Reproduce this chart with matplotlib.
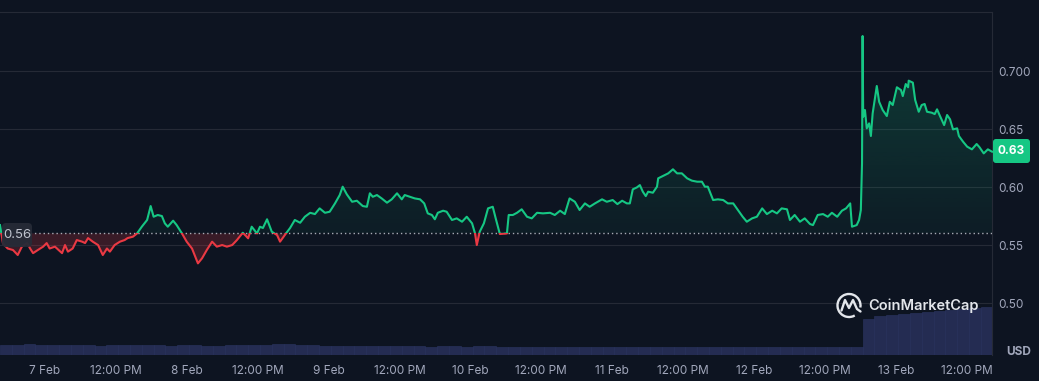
import numpy as np
import matplotlib
matplotlib.use('Agg')
import matplotlib.pyplot as plt
from matplotlib.path import Path
from matplotlib.patches import Rectangle, FancyBboxPatch, Arc

plt.rcParams['font.family'] = ['Inter', 'DejaVu Sans']

# ---------------- data ----------------
# hours relative to 7 Feb 00:00
hours = [-7.6, -7.1, -6.3, -5.4, -4.6, -3.9, -3.0, -2.5, -2.0, -1.2, -0.3, 0.3, 0.8, 1.7, 2.9, 3.4, 3.9, 4.7,
         5.4, 6.3, 6.8, 7.3, 8.1, 9.0, 9.8, 10.5, 11.0, 11.8, 12.7, 13.5, 14.0, 14.9, 15.6, 16.4, 17.3, 17.9,
         18.4, 19.1, 19.8, 20.3, 20.8, 21.7, 22.3, 23.2, 24.0, 24.9, 25.9, 26.6, 27.4, 28.3, 29.1, 30.0, 30.8,
         31.7, 32.5, 33.5, 34.4, 35.0, 35.9, 36.4, 36.9, 37.6, 38.4, 39.3, 39.8, 40.6, 41.5, 42.3, 43.2, 44.0,
         44.9, 45.7, 46.5, 47.4, 48.2, 49.1, 49.9, 50.4, 51.1, 52.0, 52.8, 53.8, 54.5, 55.0, 55.5, 56.2, 57.0,
         57.9, 58.7, 59.6, 60.4, 60.9, 61.8, 62.6, 63.5, 64.2, 64.8, 65.5, 66.0, 66.5, 67.4, 68.0, 68.9, 69.7,
         70.6, 71.4, 72.3, 72.8, 73.1, 73.6, 74.3, 75.0, 75.8, 76.3, 77.0, 78.2, 78.5, 79.2, 79.9, 80.7, 81.6,
         82.4, 83.3, 84.3, 85.5, 86.3, 87.2, 88.0, 88.8, 89.7, 90.5, 91.4, 92.2, 93.1, 94.3, 95.1, 96.1, 96.9,
         97.7, 98.5, 99.0, 99.5, 100.2, 100.7, 101.2, 101.7, 102.1, 102.9, 103.6, 103.8, 104.6, 105.5, 106.3,
         107.0, 107.8, 108.7, 109.5, 110.4, 111.2, 111.7, 112.2, 113.1, 113.9, 114.8, 115.6, 116.5, 117.3,
         118.1, 118.8, 119.7, 120.5, 121.4, 122.2, 123.1, 123.9, 124.7, 125.6, 126.1, 126.9, 127.8, 128.6,
         129.5, 130.0, 130.8, 131.7, 132.5, 133.2, 134.1, 134.9, 135.6, 136.3, 136.6, 137.4, 137.8, 138.1,
         138.3, 138.4, 138.5, 138.8, 139.1, 139.5, 139.8, 140.1, 140.8, 141.2, 141.8, 142.5, 143.0, 143.5,
         144.2, 144.9, 145.2, 145.7, 146.1, 146.2, 146.9, 147.3, 147.9, 148.4, 148.9, 149.3, 150.1, 150.6,
         151.0, 151.5, 152.2, 152.7, 153.2, 153.7, 154.4, 154.7, 155.4, 156.1, 156.9, 157.7, 158.2, 158.9,
         159.6, 160.3]
prices = [0.5672, 0.5515, 0.547, 0.5457, 0.5414, 0.5486, 0.5517, 0.547, 0.543, 0.5457, 0.5486, 0.5517, 0.547,
          0.5486, 0.543, 0.55, 0.5443, 0.547, 0.5543, 0.5529, 0.5517, 0.556, 0.5529, 0.55, 0.5414, 0.547, 0.5443,
          0.55, 0.5529, 0.5543, 0.556, 0.5572, 0.560, 0.5658, 0.5716, 0.5836, 0.5744, 0.5759, 0.575, 0.5687,
          0.5658, 0.571, 0.5672, 0.560, 0.5529, 0.547, 0.5342, 0.5386, 0.5457, 0.5529, 0.5486, 0.55, 0.5486,
          0.55, 0.5543, 0.5606, 0.5558, 0.5658, 0.560, 0.5658, 0.5647, 0.5722, 0.5615, 0.5586, 0.5529, 0.5586,
          0.5647, 0.5716, 0.5692, 0.5744, 0.5778, 0.5767, 0.5816, 0.5778, 0.5787, 0.5859, 0.5931, 0.6003,
          0.5937, 0.5873, 0.5882, 0.5836, 0.583, 0.5946, 0.5916, 0.5931, 0.5902, 0.5865, 0.5894, 0.5946,
          0.5894, 0.5931, 0.5916, 0.5902, 0.5894, 0.5859, 0.5773, 0.5759, 0.5722, 0.5778, 0.5796, 0.5787,
          0.5716, 0.573, 0.5701, 0.5744, 0.5687, 0.560, 0.550, 0.5615, 0.5687, 0.5816, 0.583, 0.573, 0.5595,
          0.560, 0.5759, 0.5759, 0.5778, 0.5808, 0.5744, 0.573, 0.5778, 0.5773, 0.5778, 0.5759, 0.5796,
          0.5767, 0.5902, 0.5873, 0.5802, 0.5859, 0.583, 0.5859, 0.5894, 0.5873, 0.5888, 0.5853, 0.5882,
          0.5859, 0.5859, 0.598, 0.5997, 0.6017, 0.596, 0.5922, 0.596, 0.5951, 0.6003, 0.6075, 0.6095,
          0.6118, 0.6153, 0.6118, 0.6118, 0.6075, 0.6055, 0.6046, 0.6046, 0.6003, 0.6003, 0.5888, 0.5894,
          0.5888, 0.5859, 0.5859, 0.5802, 0.5744, 0.5701, 0.573, 0.5744, 0.5816, 0.5767, 0.5796, 0.5773,
          0.5816, 0.5808, 0.5716, 0.5759, 0.5701, 0.573, 0.5681, 0.5672, 0.5759, 0.5767, 0.5744, 0.5778,
          0.5744, 0.5796, 0.5816, 0.5859, 0.5658, 0.5672, 0.5716, 0.5802, 0.6204, 0.7302, 0.6606, 0.6664,
          0.6506, 0.6549, 0.644, 0.6635, 0.6871, 0.6735, 0.6664, 0.6612, 0.6735, 0.6707, 0.686, 0.6836,
          0.6784, 0.6888, 0.686, 0.6917, 0.69, 0.675, 0.6649, 0.6707, 0.6716, 0.6649, 0.6641, 0.6629, 0.667,
          0.6612, 0.6534, 0.6621, 0.6584, 0.6497, 0.6506, 0.644, 0.6391, 0.6348, 0.6325, 0.6371, 0.6342,
          0.629, 0.6325, 0.6305]

# 2-hour volume bars (arbitrary units) starting at the first timestamp
vol_start = -7.6
vol_step = 2.0
volumes = [1.0, 1.0, 1.1, 1.05, 1.0, 1.0, 1.0, 1.0, 0.95, 1.0, 1.0, 1.0, 1.05, 1.0, 0.95, 1.0, 1.0, 0.95,
           0.95, 1.0, 1.0, 1.0, 1.0, 1.1, 1.1, 1.0, 1.0, 0.95, 0.95, 0.95, 0.9, 0.9, 0.95, 0.9, 0.9, 0.9,
           0.85, 0.9, 0.9, 0.85, 0.9, 0.9, 0.85, 0.85, 0.85, 0.85, 0.85, 0.8, 0.85, 0.85, 0.8, 0.8, 0.85,
           0.8, 0.8, 0.8, 0.8, 0.8, 0.8, 0.8, 0.8, 0.8, 0.8, 0.8, 0.8, 0.8, 0.8, 0.8, 0.8, 0.8, 0.8, 0.8,
           0.8, 3.6, 3.9, 4.0, 4.1, 4.2, 4.3, 4.4, 4.5, 4.6, 4.7, 4.85]

tick_hours = [0, 12, 24, 36, 48, 60, 72, 84, 96, 108, 120, 132, 144, 156]
tick_labels = ['7 Feb', '12:00 PM', '8 Feb', '12:00 PM', '9 Feb', '12:00 PM', '10 Feb', '12:00 PM',
               '11 Feb', '12:00 PM', '12 Feb', '12:00 PM', '13 Feb', '12:00 PM']
y_ticks = [0.50, 0.55, 0.60, 0.65, 0.70]
y_tick_labels = ['0.50', '0.55', '0.60', '0.65', '0.700']
baseline = 0.56
baseline_label = '0.56'
last_label = '0.63'

# ---------------- style ----------------
BG = '#0d1421'
GRID = '#252a36'
GREEN = '#16c784'
RED = '#ea3943'
TXT = '#a1a7bb'
VOL = '#242c52'

W, H = 1039, 381
fig = plt.figure(figsize=(W / 100, H / 100), dpi=100, facecolor=BG)
pos = [0, (H - 355) / H, 992 / W, (355 - 12) / H]

x = np.array(hours)
y = np.array(prices)
xmin, xmax = -7.6, 160.3
ymin, ymax = 0.4552, 0.7509

# volume axes (behind)
axv = fig.add_axes(pos, zorder=1)
axv.set_facecolor(BG)
vt = vol_start + np.arange(len(volumes)) * vol_step
axv.bar(vt, volumes, width=vol_step, align='edge', color=VOL, edgecolor='#2b3461', linewidth=0.4)
axv.set_xlim(xmin, xmax)
axv.set_ylim(0, 34.3)
axv.axis('off')

# price axes
ax = fig.add_axes(pos, zorder=2)
ax.patch.set_alpha(0)
ax.set_xlim(xmin, xmax)
ax.set_ylim(ymin, ymax)

for yt in y_ticks:
    ax.axhline(yt, color=GRID, lw=0.8, zorder=1)

# gradient fill above baseline
verts = np.vstack([[x[0], baseline], np.column_stack([x, y]), [x[-1], baseline], [x[0], baseline]])
poly = Path(verts)
grad = np.zeros((256, 1, 4))
rgb = matplotlib.colors.to_rgb(GREEN)
grad[..., 0], grad[..., 1], grad[..., 2] = rgb
grad[:, 0, 3] = np.linspace(0.24, 0.05, 256)
im = ax.imshow(grad, extent=[xmin, xmax, baseline, 0.735], aspect='auto', origin='upper', zorder=2,
               interpolation='bilinear')
im.set_clip_path(poly, transform=ax.transData)

# red fill below baseline
ax.fill_between(x, y, baseline, where=y < baseline, interpolate=True, color=RED, alpha=0.2,
                linewidth=0, zorder=2)

# lines, split at the baseline via clipping
lg, = ax.plot(x, y, color=GREEN, lw=1.5, zorder=4, solid_joinstyle='round')
lr, = ax.plot(x, y, color=RED, lw=1.5, zorder=4, solid_joinstyle='round')
clip_up = Rectangle((xmin - 5, baseline), xmax - xmin + 10, 1, transform=ax.transData)
clip_dn = Rectangle((xmin - 5, baseline - 1), xmax - xmin + 10, 1, transform=ax.transData)
lg.set_clip_path(clip_up)
lr.set_clip_path(clip_dn)

ax.axhline(baseline, color='#c3c7d0', lw=1.0, linestyle=(0, (1, 2.1)), alpha=0.85, zorder=3)

for side in ['left', 'bottom']:
    ax.spines[side].set_visible(False)
for side in ['top', 'right']:
    ax.spines[side].set_color(GRID)
    ax.spines[side].set_linewidth(0.8)

ax.set_xticks(tick_hours)
ax.set_xticklabels(tick_labels)
ax.yaxis.tick_right()
ax.set_yticks(y_ticks)
ax.set_yticklabels(y_tick_labels)
ax.tick_params(axis='x', length=0, pad=7, labelsize=8.5, labelcolor=TXT)
ax.tick_params(axis='y', length=0, pad=4.5, labelsize=8.5, labelcolor=TXT)

# overlay in pixel coordinates for badges and logo
ov = fig.add_axes([0, 0, 1, 1], zorder=5)
ov.set_xlim(0, W)
ov.set_ylim(H, 0)
ov.axis('off')
ov.patch.set_alpha(0)

ov.add_patch(FancyBboxPatch((993, 139), 37, 24, boxstyle='round,pad=0,rounding_size=3',
                            fc=GREEN, ec='none'))
ov.text(1011.5, 151.5, last_label, color='white', fontsize=8.5, fontweight='bold', ha='center', va='center')

ov.add_patch(FancyBboxPatch((2, 223), 30, 24, boxstyle='round,pad=0,rounding_size=4',
                            fc='#262b37', ec='none', alpha=0.95))
ov.text(17, 235.5, baseline_label, color='#bfc3ce', fontsize=9.5, ha='center', va='center')

ov.text(1031, 352, 'USD', color=TXT, fontsize=8.5, fontweight='bold', ha='right', va='center')

# CoinMarketCap logo
ov.add_patch(Arc((849, 305.5), 23, 23, theta1=60, theta2=370, color='#e3e6eb', lw=1.7))
ov.plot([841.5, 845, 849, 853, 857, 860.5], [310.5, 300, 308, 300, 309, 311.5], color='#e3e6eb', lw=1.7,
        solid_joinstyle='round', solid_capstyle='round')
ov.text(868, 306, 'CoinMarketCap', color='#e3e6eb', fontsize=10.5, fontweight='semibold',
        ha='left', va='center')

fig.savefig('out.png', dpi=100, facecolor=BG)
